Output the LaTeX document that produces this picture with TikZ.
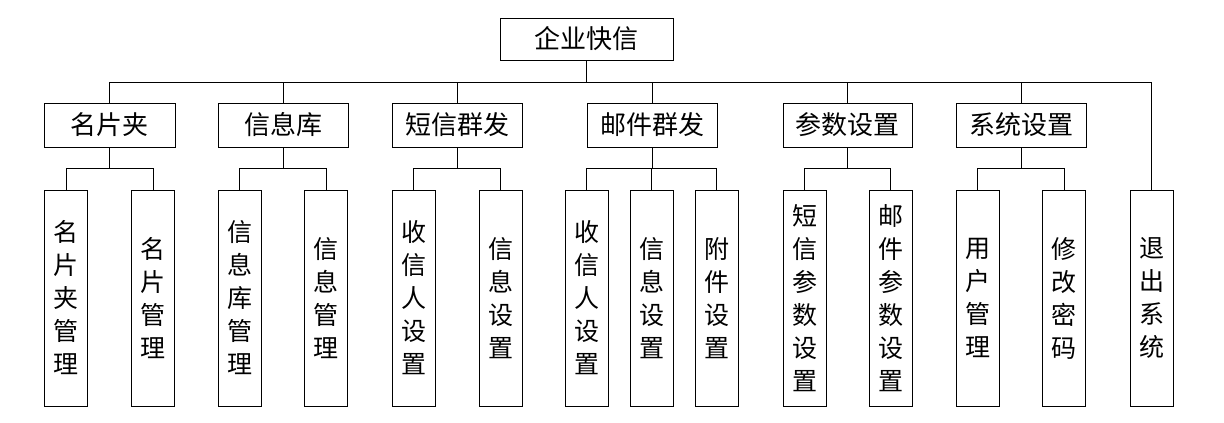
\documentclass[tikz,border=0pt]{standalone}
\usepackage{fontspec}
\newfontfamily\cjk{Noto Sans CJK SC}
\usetikzlibrary{positioning}
\tikzset{
  topbox/.style={draw, line width=1pt, inner sep=0, minimum width=173, minimum height=42,
    font=\cjk\fontsize{26}{30}\selectfont},
  midbox/.style={draw, line width=1pt, inner sep=0, minimum width=130, minimum height=44,
    font=\cjk\fontsize{26}{30}\selectfont},
  leafbox/.style={draw, line width=1pt, inner sep=0, minimum width=43, minimum height=216,
    align=center, font=\cjk\fontsize{25}{33}\selectfont},
  wire/.style={line width=1pt}
}

\begin{document}
\begin{tikzpicture}[x=1pt, y=-1pt]
\useasboundingbox (0,0) rectangle (1224,423);
%root
\node [topbox] (root) at (586.5,39) {企业快信};

%modules
\node [midbox, minimum width=131] (card) at (109.5,125) {名片夹};
\node [midbox] (lib) at (283,125) {信息库};
\node [midbox] (sms) at (457,125) {短信群发};
\node [midbox] (mail) at (652,125) {邮件群发};
\node [midbox, minimum width=129] (param) at (847.5,125) {参数设置};
\node [midbox] (sys) at (1021,125) {系统设置};

%functions
\node [leafbox] (cardA) at (66,298) {名\\片\\夹\\管\\理};
\node [leafbox] (cardB) at (153,298) {名\\片\\管\\理};
\node [leafbox] (libA) at (239.5,298) {信\\息\\库\\管\\理};
\node [leafbox] (libB) at (326,298) {信\\息\\管\\理};
\node [leafbox] (smsA) at (413.5,298) {收\\信\\人\\设\\置};
\node [leafbox] (smsB) at (500.5,298) {信\\息\\设\\置};
\node [leafbox] (mailA) at (586.5,298) {收\\信\\人\\设\\置};
\node [leafbox] (mailB) at (651.5,298) {信\\息\\设\\置};
\node [leafbox] (mailC) at (716.5,298) {附\\件\\设\\置};
\node [leafbox] (parA) at (804.5,298) {短\\信\\参\\数\\设\\置};
\node [leafbox] (parB) at (890.5,298) {邮\\件\\参\\数\\设\\置};
\node [leafbox] (sysA) at (977.5,298) {用\\户\\管\\理};
\node [leafbox] (sysB) at (1064,298) {修\\改\\密\\码};
\node [leafbox] (quit) at (1151.5,298) {退\\出\\系\\统};

%top bus
\path (root.south) ++(0,22) coordinate (bus);
\draw [wire] (root.south) -- (bus);
\foreach \n in {card, lib, sms, mail, param, sys, quit}
  \draw [wire] (bus) -| (\n.north);

%module buses
\foreach \m/\kids in {card/{cardA,cardB}, lib/{libA,libB}, sms/{smsA,smsB},
    mail/{mailA,mailB,mailC}, param/{parA,parB}, sys/{sysA,sysB}} {
  \path (\m.south) ++(0,21) coordinate (\m bus);
  \draw [wire] (\m.south) -- (\m bus);
  \foreach \k in \kids
    \draw [wire] (\m bus) -| (\k.north);
}

\end{tikzpicture}
\end{document}
